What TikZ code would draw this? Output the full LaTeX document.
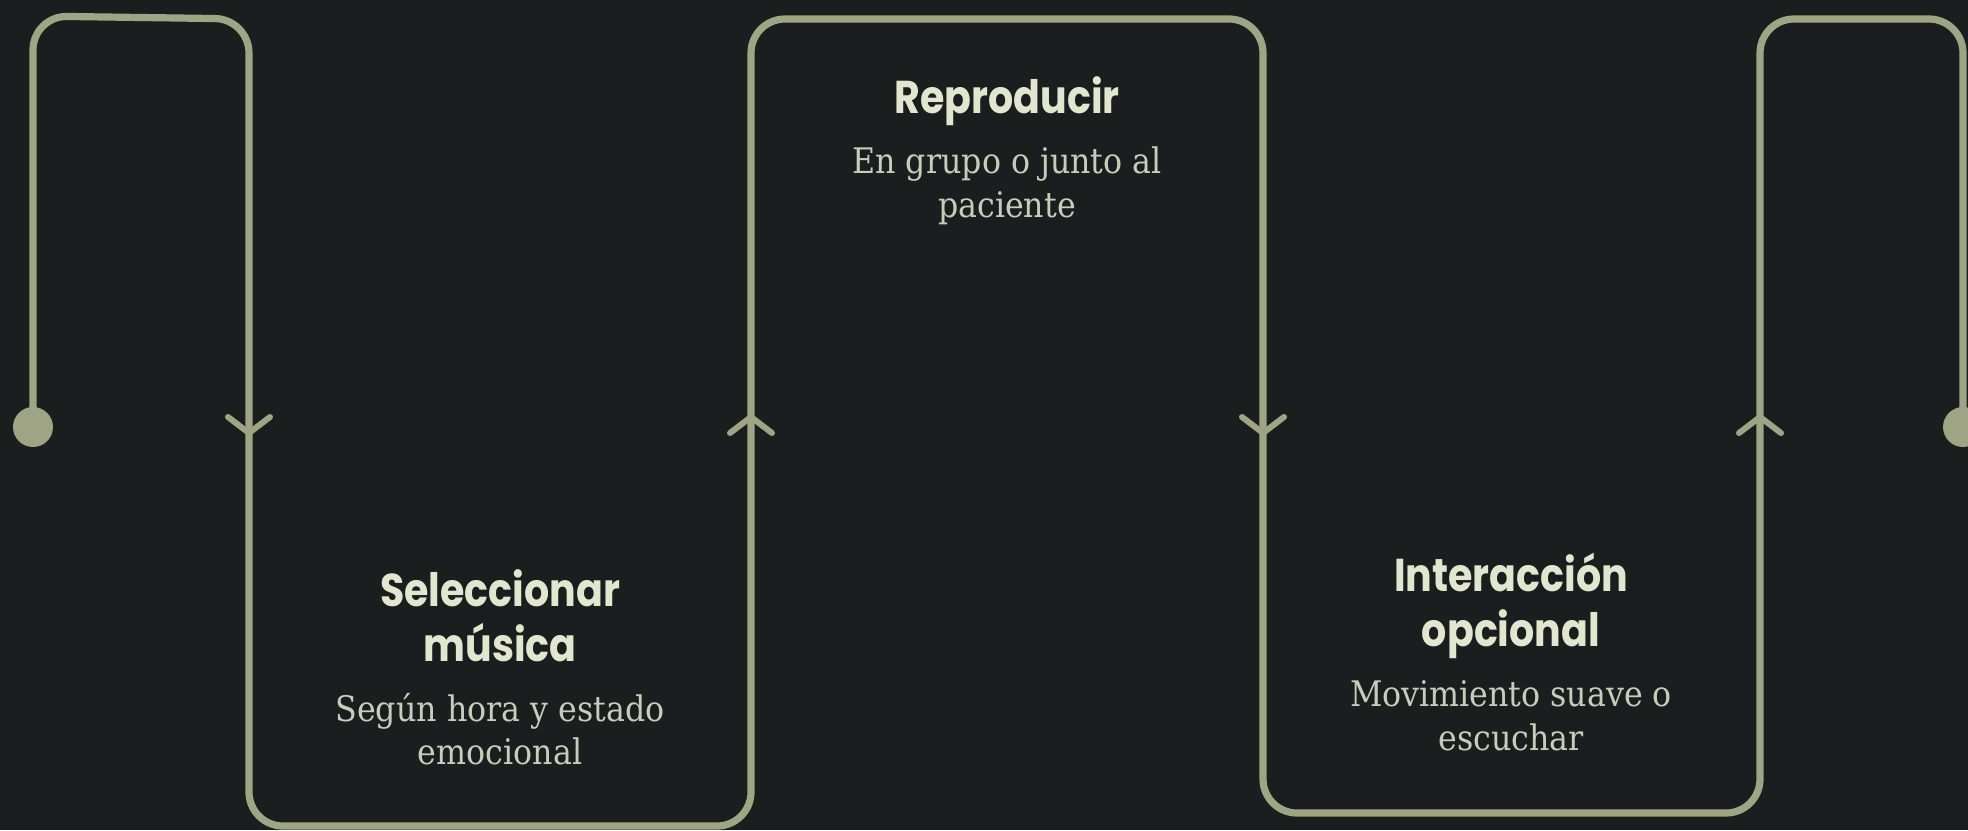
\documentclass[tikz,border=0pt]{standalone}
\usepackage{fontspec}
\usepackage{tikz}
\newfontfamily\titlefont[FakeStretch=0.86]{Poppins}
\newfontfamily\descfont{DejaVu Serif Condensed}
\definecolor{bgdark}{HTML}{1C1D1F}
\definecolor{sage}{HTML}{9FA584}
\definecolor{cream}{HTML}{E3E6CF}
\definecolor{mist}{HTML}{C9CCB8}

\begin{document}
\begin{tikzpicture}[x=0.5pt,y=-0.5pt,
		flow/.style={draw=sage,line width=3.6pt,rounded corners=17pt,line join=round},
		chev/.style={draw=sage,line width=3pt,line cap=round,line join=round},
		enddot/.style={circle,fill=sage,inner sep=0pt,minimum size=20pt},
		steptitle/.style={text=cream,align=center,font=\titlefont\bfseries\fontsize{23}{27.5}\selectfont},
		stepdesc/.style={text=mist,align=center,font=\descfont\fontsize{17.6}{21.8}\selectfont}]
		% background and page size
		\fill[bgdark] (0,0) rectangle (1968,830);
		\useasboundingbox (0,0) rectangle (1968,830);
		
		% draw meander line
		\coordinate (start) at (33,427);
		\coordinate (finish) at (1963,427);
		\draw[flow] (start) -- (33,16) -- (249,19) -- (249,826) -- (751,826) -- (751,19)
			-- (1263,19) -- (1263,813) -- (1760,813) -- (1760,19) -- (1963,19) -- (finish);
		
		% draw end dots
		\node[enddot] (startdot) at (start) {};
		\node[enddot] (finishdot) at (finish) {};
		
		% draw chevrons (1 = down, -1 = up)
		\foreach \x/\d in {249/1,751/-1,1263/1,1760/-1}
		\draw[chev] (\x-21,425-8*\d) -- (\x,425+8*\d) -- (\x+21,425-8*\d);
		
		% draw labels
		\node[steptitle] (seltitle) at (500,616) {Seleccionar\\música};
		\node[stepdesc] (seldesc) at (500,729) {Según hora y estado\\emocional};
		\node[steptitle] (reptitle) at (1007,101) {Reproducir};
		\node[stepdesc] (repdesc) at (1007,186) {En grupo o junto al\\paciente};
		\node[steptitle] (inttitle) at (1511,606) {Interacción\\opcional};
		\node[stepdesc] (intdesc) at (1511,716) {Movimiento suave o\\escuchar};
\end{tikzpicture}
\end{document}
